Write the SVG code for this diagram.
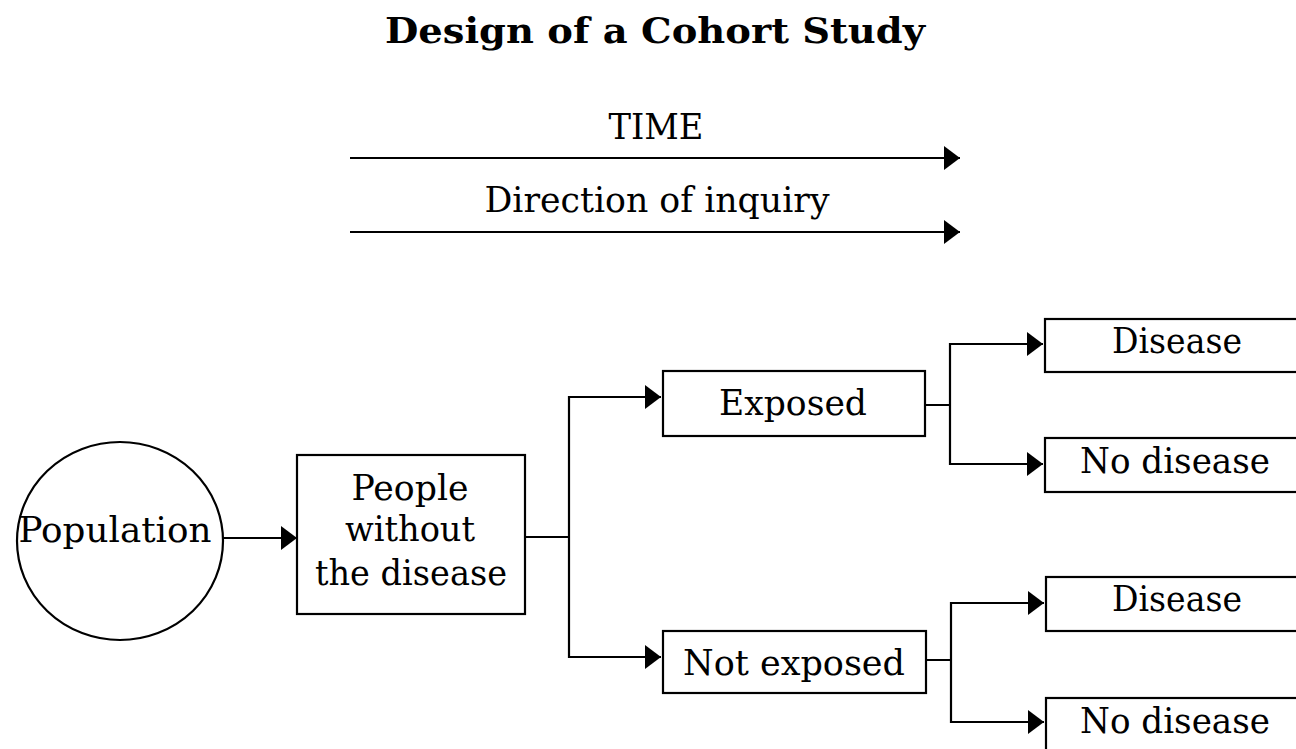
<svg xmlns="http://www.w3.org/2000/svg" width="1296" height="749" viewBox="0 0 1296 749">
<style>
.t{font-family:"DejaVu Serif","Liberation Serif",serif;font-size:36px;fill:#000;text-anchor:middle}
.title{font-family:"DejaVu Serif","Liberation Serif",serif;font-weight:bold;font-size:36px;fill:#000;text-anchor:middle}
.box{fill:#fff;stroke:#000;stroke-width:2.2}
.ln{fill:none;stroke:#000;stroke-width:2.2;stroke-linecap:square}
.arr{fill:none;stroke:#000;stroke-width:2.2;marker-end:url(#ah)}
</style>
<defs>
<marker id="ah" viewBox="0 0 16 24" refX="16" refY="12" markerWidth="16" markerHeight="24" markerUnits="userSpaceOnUse" orient="auto">
<path d="M0,0 L16,12 L0,24 Z" fill="#000"/>
</marker>
</defs>
<rect width="1296" height="749" fill="#fff"/>
<text class="title" x="655" y="43" textLength="540" lengthAdjust="spacingAndGlyphs">Design of a Cohort Study</text>
<text class="t" x="656" y="139" textLength="95" lengthAdjust="spacingAndGlyphs">TIME</text>
<text class="t" x="657" y="212" textLength="345" lengthAdjust="spacingAndGlyphs">Direction of inquiry</text>
<g id="connectors">
<path class="arr" d="M350,158 H960"/>
<path class="arr" d="M350,232 H960"/>
<path class="arr" d="M223,538 H297"/>
<path class="ln" d="M526,537 H569 M569,397 V657"/>
<path class="arr" d="M569,397 H661"/>
<path class="arr" d="M569,657 H661"/>
<path class="ln" d="M926,405 H950 M950,344 V464"/>
<path class="arr" d="M950,344 H1043"/>
<path class="arr" d="M950,464 H1043"/>
<path class="ln" d="M927,660 H951 M951,603 V722"/>
<path class="arr" d="M951,603 H1044"/>
<path class="arr" d="M951,722 H1044"/>
</g>
<g id="population">
<ellipse class="box" cx="120" cy="541" rx="103" ry="99"/>
<text class="t" x="115" y="542" textLength="193" lengthAdjust="spacingAndGlyphs">Population</text>
</g>
<g id="people">
<rect class="box" x="297" y="455" width="228" height="159"/>
<text class="t" x="410" y="500" textLength="117" lengthAdjust="spacingAndGlyphs">People</text>
<text class="t" x="410" y="541" textLength="130" lengthAdjust="spacingAndGlyphs">without</text>
<text class="t" x="411" y="585" textLength="192" lengthAdjust="spacingAndGlyphs">the disease</text>
</g>
<g id="exposed">
<rect class="box" x="663" y="371" width="262" height="65"/>
<text class="t" x="793" y="415" textLength="148" lengthAdjust="spacingAndGlyphs">Exposed</text>
</g>
<g id="not-exposed">
<rect class="box" x="663" y="631" width="263" height="62"/>
<text class="t" x="794" y="675" textLength="222" lengthAdjust="spacingAndGlyphs">Not exposed</text>
</g>
<g id="disease-1">
<rect class="box" x="1045" y="319" width="260" height="53"/>
<text class="t" x="1177" y="353" textLength="130" lengthAdjust="spacingAndGlyphs">Disease</text>
</g>
<g id="nodisease-1">
<rect class="box" x="1045" y="438" width="260" height="54"/>
<text class="t" x="1175" y="473" textLength="190" lengthAdjust="spacingAndGlyphs">No disease</text>
</g>
<g id="disease-2">
<rect class="box" x="1046" y="577" width="260" height="54"/>
<text class="t" x="1177" y="611" textLength="130" lengthAdjust="spacingAndGlyphs">Disease</text>
</g>
<g id="nodisease-2">
<rect class="box" x="1046" y="698" width="260" height="60"/>
<text class="t" x="1175" y="733" textLength="190" lengthAdjust="spacingAndGlyphs">No disease</text>
</g>
</svg>
